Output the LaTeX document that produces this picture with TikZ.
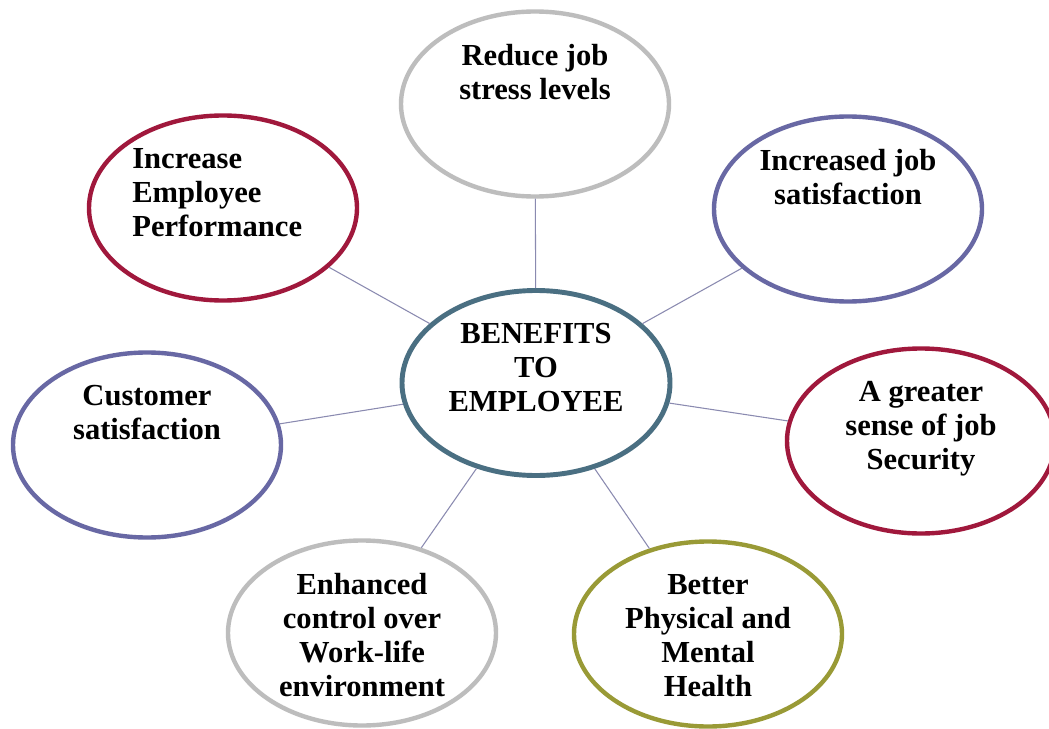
\documentclass[tikz,border=0pt]{standalone}
\usepackage{fontspec}
\setmainfont{Liberation Serif}
\usepackage{tikz}
\usetikzlibrary{shapes.geometric}
\definecolor{hubblue}{HTML}{4A6F82}
\definecolor{berry}{HTML}{A0183C}
\definecolor{iris}{HTML}{6868A4}
\definecolor{silver}{HTML}{BDBDBD}
\definecolor{olive}{HTML}{999A36}
\definecolor{spokecol}{HTML}{8A8AB0}
\newcommand{\bubblefont}{\bfseries\fontsize{17.4pt}{19.3pt}\selectfont}

\begin{document}
\begin{tikzpicture}[
    bubble/.style={ellipse, line width=2.5pt, fill=white, minimum width=5.36cm, minimum height=3.70cm, inner sep=0pt},
    words/.style={anchor=north, align=center, inner sep=0pt, font=\bubblefont},
    spoke/.style={draw=spokecol, line width=0.6pt}]
    \useasboundingbox[fill=white] (0, 0) rectangle (20.98, -14.58);

    \node (hub) [bubble, draw=hubblue, line width=2.8pt] at (10.72, -7.66) {};
    \node (stress) [bubble, draw=silver] at (10.70, -2.08) {};
    \node (jobsat) [bubble, draw=iris] at (16.96, -4.18) {};
    \node (security) [bubble, draw=berry] at (18.42, -8.82) {};
    \node (health) [bubble, draw=olive] at (14.16, -12.68) {};
    \node (worklife) [bubble, draw=silver] at (7.24, -12.66) {};
    \node (customer) [bubble, draw=iris] at (2.94, -8.90) {};
    \node (perform) [bubble, draw=berry] at (4.46, -4.16) {};

    \draw[spoke] (hub) -- (stress);
    \draw[spoke] (hub) -- (jobsat);
    \draw[spoke] (hub) -- (security);
    \draw[spoke] (hub) -- (health);
    \draw[spoke] (hub) -- (worklife);
    \draw[spoke] (hub) -- (customer);
    \draw[spoke] (hub) -- (perform);

    \node (hub-text) [words] at ([yshift=1.2cm]hub.center) {BENEFITS\\TO\\EMPLOYEE};
    \node (stress-text) [words] at ([yshift=1.2cm]stress.center) {Reduce job\\stress levels};
    \node (jobsat-text) [words] at ([yshift=1.2cm]jobsat.center) {Increased job\\satisfaction};
    \node (security-text) [words] at ([yshift=1.2cm]security.center) {A greater\\sense of job\\Security};
    \node (health-text) [words] at ([yshift=1.2cm]health.center) {Better\\Physical and\\Mental\\Health};
    \node (worklife-text) [words] at ([yshift=1.2cm]worklife.center) {Enhanced\\control over\\Work-life\\environment};
    \node (customer-text) [words] at ([yshift=1.2cm]customer.center) {Customer\\satisfaction};
    \node (perform-text) [words, anchor=north west, align=left] at ([xshift=-1.82cm, yshift=1.2cm]perform.center) {Increase\\Employee\\Performance};
\end{tikzpicture}
\end{document}
